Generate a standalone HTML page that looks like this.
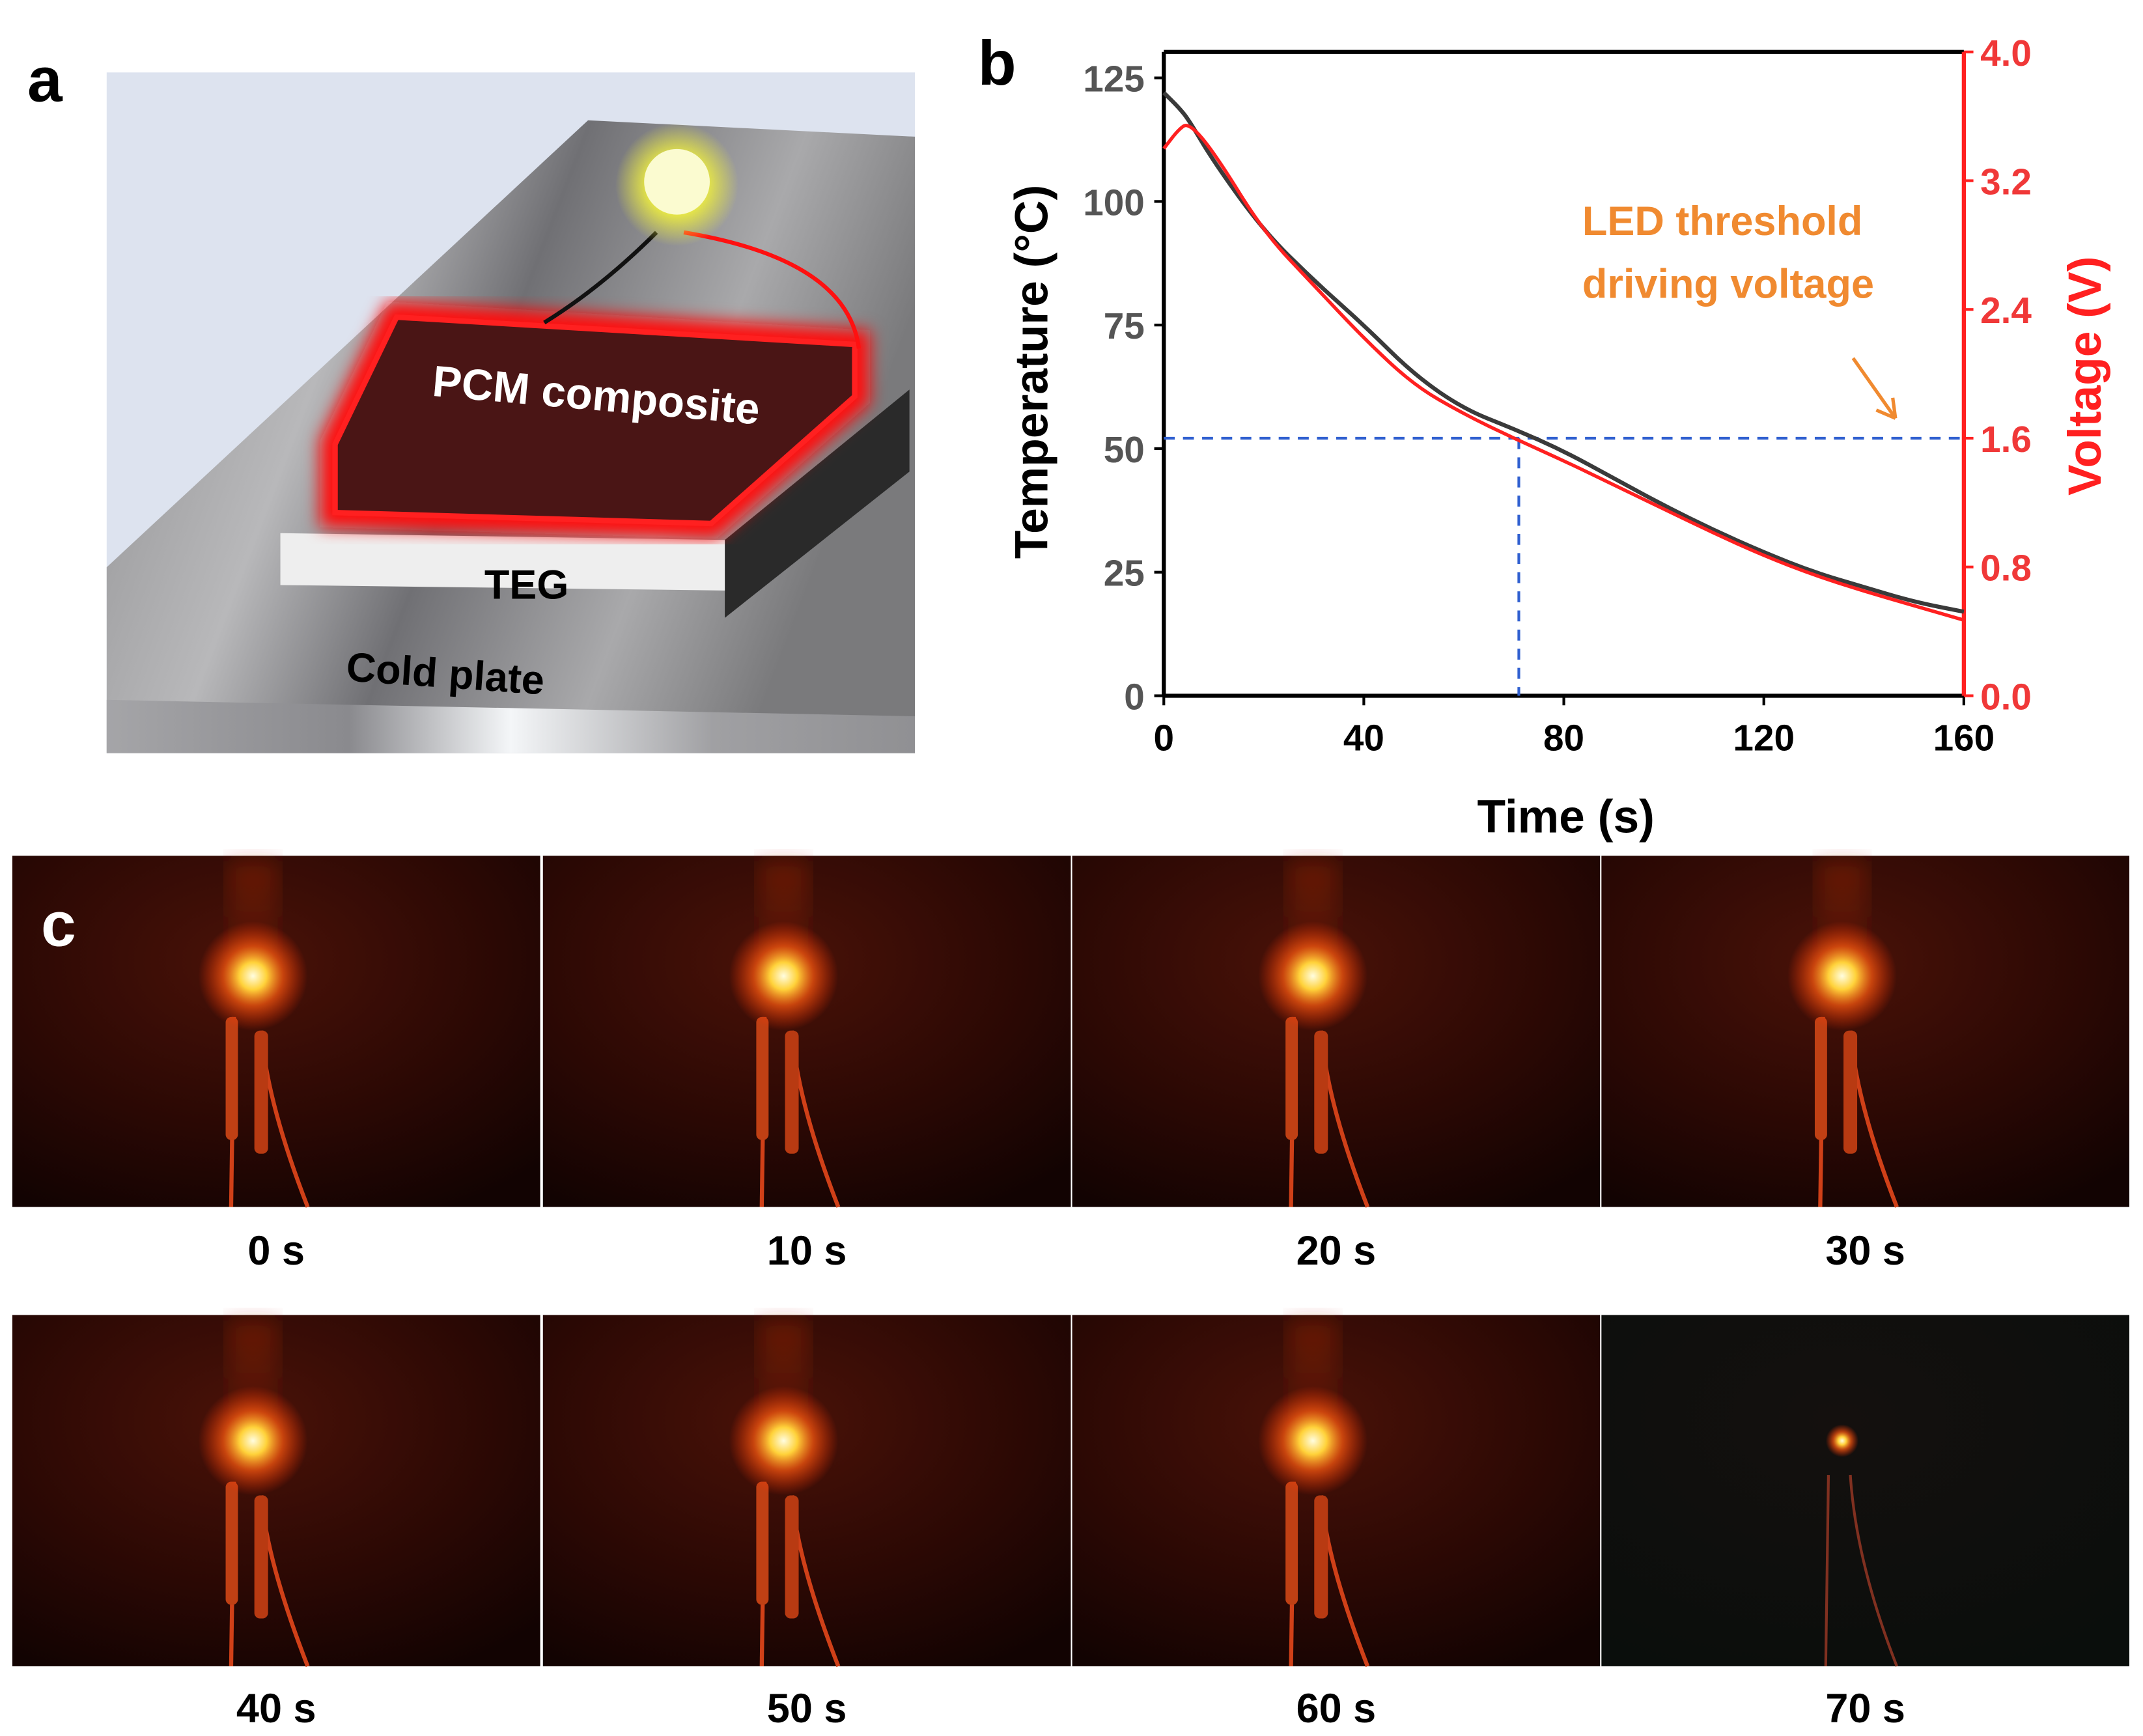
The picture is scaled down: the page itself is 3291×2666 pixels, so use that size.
<!DOCTYPE html>
<html><head><meta charset="utf-8"><style>
html,body{margin:0;padding:0;background:#fff}
svg{display:block}
text{font-family:"Liberation Sans",sans-serif}
</style></head><body>
<svg id="fig" width="3291" height="2666" viewBox="0 0 1567 1270" preserveAspectRatio="none" xmlns="http://www.w3.org/2000/svg">
<defs>
<linearGradient id="plate" x1="0" y1="0" x2="1" y2="0.3">
<stop offset="0" stop-color="#8a8a8c"/><stop offset="0.35" stop-color="#b8b8ba"/><stop offset="0.55" stop-color="#707074"/><stop offset="0.8" stop-color="#a9a9ab"/><stop offset="1" stop-color="#7a7a7c"/></linearGradient>
<linearGradient id="edge" x1="0" y1="0" x2="1" y2="0">
<stop offset="0" stop-color="#a5a5a8"/><stop offset="0.3" stop-color="#8a8a8e"/><stop offset="0.5" stop-color="#f4f6f8"/><stop offset="0.75" stop-color="#a0a0a3"/><stop offset="1" stop-color="#909093"/></linearGradient>
<radialGradient id="glowY"><stop offset="0.4" stop-color="#f4f43a"/><stop offset="1" stop-color="#f4f43a" stop-opacity="0"/></radialGradient>
<radialGradient id="ph" cx="0.45" cy="0.3" r="0.8"><stop offset="0" stop-color="#4a1208"/><stop offset="0.6" stop-color="#2a0804"/><stop offset="1" stop-color="#120302"/></radialGradient>
<radialGradient id="ph2" cx="0.45" cy="0.3" r="0.8"><stop offset="0" stop-color="#14100e"/><stop offset="1" stop-color="#0a0e0c"/></radialGradient>
<radialGradient id="led"><stop offset="0" stop-color="#fffde0"/><stop offset="0.25" stop-color="#ffd23a"/><stop offset="0.55" stop-color="#ff5a10" stop-opacity="0.7"/><stop offset="1" stop-color="#ff3000" stop-opacity="0"/></radialGradient>
<linearGradient id="beam" x1="0" y1="0" x2="0" y2="1"><stop offset="0" stop-color="#c03010" stop-opacity="0.35"/><stop offset="1" stop-color="#c03010" stop-opacity="0"/></linearGradient>
<filter id="blur"><feGaussianBlur stdDeviation="6"/></filter>
<filter id="blur2"><feGaussianBlur stdDeviation="8"/></filter>
</defs>

<!-- Panel a -->
<text x="20" y="74" font-size="46" font-weight="bold">a</text>
<g>
<rect x="78" y="53" width="591" height="498" fill="#dde3ef"/>
<polygon points="430,88 669,100 669,551 78,551 78,415" fill="url(#plate)"/>
<polygon points="78,512 669,524 669,551 78,551" fill="url(#edge)"/>
<polygon points="530,395 665,285 665,345 530,452" fill="#2a2a2a"/>
<polygon points="205,390 530,395 530,432 205,428" fill="#eeeeee"/>
<text x="385" y="438" font-size="30" font-weight="bold" text-anchor="middle">TEG</text>
<polygon points="290,232 625,252 625,290 520,383 245,375 245,325" fill="none" stroke="#ff1010" stroke-width="22" filter="url(#blur)"/>
<polygon points="290,232 625,252 625,290 520,383 245,375 245,325" fill="#4a1515" stroke="#ff2020" stroke-width="4"/>
<text x="435" y="300" font-size="32" font-weight="bold" fill="#fff" text-anchor="middle" transform="rotate(5 435 300)">PCM composite</text>
<path d="M398,236 Q440,210 480,170" stroke="#111" stroke-width="3" fill="none"/>
<path d="M500,170 Q620,190 628,255" stroke="#ff1010" stroke-width="3" fill="none"/>
<circle cx="495" cy="135" r="45" fill="url(#glowY)"/>
<circle cx="495" cy="133" r="24" fill="#fbfbd0"/>
<text x="325" y="503" font-size="30" font-weight="bold" text-anchor="middle" transform="rotate(4 325 503)">Cold plate</text>
</g>

<!-- Panel b -->
<text x="715" y="62" font-size="46" font-weight="bold">b</text>
<g id="chart"></g>

<!-- Panel c -->
<g id="photos"></g>
<text x="30" y="692" font-size="46" font-weight="bold" fill="#fff">c</text>
</svg>
<script>
const times=[0,3,5,10,20,30,40,50,60,70,80,90,100,110,120,130,140,150,160];
const temps=[122,119,116.5,108,94,84,75,65,58,54,49.5,44,38.5,33.5,29,25,22,19,17];
const volts=[3.4,3.52,3.56,3.38,2.88,2.55,2.22,1.93,1.75,1.6,1.46,1.31,1.16,1.01,0.87,0.75,0.65,0.56,0.47];
const xTicks=[0,40,80,120,160];
const tTicks=[0,25,50,75,100,125];
const vTicks=[0,0.8,1.6,2.4,3.2,4.0];
const threshold=[1.6];
const crossTime=[71];
const NS="http://www.w3.org/2000/svg";
const L=851,R=1436,T=38,B=509;
const xs=t=>L+(t/160)*(R-L);
const yT=v=>B-(v/130.25)*(B-T);
const yV=v=>B-(v/4)*(B-T);
const g=document.getElementById('chart');
function mk(tag,a,p){const e=document.createElementNS(NS,tag);for(const k in a)e.setAttribute(k,a[k]);(p||g).appendChild(e);return e;}
let e;
e=mk('line',{x1:L,y1:T,x2:R,y2:T,stroke:'#000','stroke-width':3});


e=mk('line',{x1:L,y1:T,x2:L,y2:B,stroke:'#000','stroke-width':3});


e=mk('line',{x1:L,y1:B,x2:R,y2:B,stroke:'#000','stroke-width':3});


e=mk('line',{x1:R,y1:T,x2:R,y2:B,stroke:'#ff2020','stroke-width':3});


xTicks.forEach(v=>{
 e=mk('line',{x1:xs(v),y1:B,x2:xs(v),y2:B+7,stroke:'#000','stroke-width':2});
 
 
 e=mk('text',{x:xs(v),y:B+40,'font-size':27,'font-weight':'bold','text-anchor':'middle'});e.textContent=v;
 
 
});
tTicks.forEach(v=>{
 e=mk('line',{x1:L-7,y1:yT(v),x2:L,y2:yT(v),stroke:'#000','stroke-width':2});
 
 
 e=mk('text',{x:L-14,y:yT(v)+10,'font-size':27,'font-weight':'bold','text-anchor':'end',fill:'#555'});e.textContent=v;
 
 
});
vTicks.forEach(v=>{
 e=mk('line',{x1:R,y1:yV(v),x2:R+7,y2:yV(v),stroke:'#ff2020','stroke-width':2});
 
 
 e=mk('text',{x:R+12,y:yV(v)+10,'font-size':27,'font-weight':'bold',fill:'#f03838'});e.textContent=v.toFixed(1);
 
 
});
e=mk('line',{x1:L,y1:yV(threshold[0]),x2:R,y2:yV(threshold[0]),stroke:'#3060d0','stroke-width':2,'stroke-dasharray':'8,6'});


e=mk('line',{x1:xs(crossTime[0]),y1:yV(threshold[0]),x2:xs(crossTime[0]),y2:B,stroke:'#3060d0','stroke-width':2,'stroke-dasharray':'8,6'});


function path(vals,fy){
 let d='M'+xs(times[0])+','+fy(vals[0]);
 for(let i=1;i<times.length;i++){const x0=xs(times[i-1]),y0=fy(vals[i-1]),x1=xs(times[i]),y1=fy(vals[i]);const mx=(x0+x1)/2;d+=' Q'+x0+','+y0+' '+mx+','+(y0+y1)/2;}
 d+=' L'+xs(times[times.length-1])+','+fy(vals[vals.length-1]);return d;}
e=mk('path',{d:path(temps,yT),fill:'none',stroke:'#3a3a3a','stroke-width':3});


e=mk('path',{d:path(volts,yV),fill:'none',stroke:'#ff2020','stroke-width':2.5});


e=mk('text',{x:1145,y:609,'font-size':34,'font-weight':'bold','text-anchor':'middle'});e.textContent='Time (s)';


e=mk('text',{x:0,y:0,'font-size':34,'font-weight':'bold','text-anchor':'middle',transform:'translate(766,272) rotate(-90)'});e.textContent='Temperature (°C)';


e=mk('text',{x:0,y:0,'font-size':34,'font-weight':'bold','text-anchor':'middle',fill:'#ff2020',transform:'translate(1536,275) rotate(-90)'});e.textContent='Voltage (V)';


e=mk('text',{x:1157,y:172,'font-size':30,'font-weight':'bold',fill:'#f08a30'});e.textContent='LED threshold';


e=mk('text',{x:1157,y:218,'font-size':30,'font-weight':'bold',fill:'#f08a30'});e.textContent='driving voltage';


e=mk('path',{d:'M1355,262 L1386,306 M1386,306 L1372,300 M1386,306 L1384,291',stroke:'#f08a30','stroke-width':2.5,fill:'none'});



// photos
const labels=['0 s','10 s','20 s','30 s','40 s','50 s','60 s','70 s'];
const colX=[9,397,784,1171],rowY=[626,962],W=386,H=257,labY=[925,1260];
const pg=document.getElementById('photos');
labels.forEach((lab,i)=>{
 const c=i%4,r=Math.floor(i/4),x=colX[c],y=rowY[r],dark=(i===7);
 const grp=mk('g',{},pg);
 
 
 mk('rect',{x:x,y:y,width:W,height:H,fill:dark?'url(#ph2)':'url(#ph)'},grp);
 const lx=x+176,ly=y+(r?92:88);
 if(!dark){
  mk('rect',{x:lx-18,y:y+4,width:36,height:ly-y,fill:'url(#beam)',filter:'url(#blur2)'},grp);
  mk('path',{d:`M${lx-14},${ly+30} L${lx-16},${y+H}`,stroke:'#d04018','stroke-width':3,fill:'none'},grp);
  mk('path',{d:`M${lx+6},${ly+40} Q${lx+10},${y+180} ${lx+40},${y+H}`,stroke:'#d04018','stroke-width':3,fill:'none'},grp);
  mk('rect',{x:lx-20,y:ly+30,width:9,height:90,rx:4,fill:'#c04014'},grp);
  mk('rect',{x:lx+1,y:ly+40,width:10,height:90,rx:4,fill:'#b83a12'},grp);
  mk('circle',{cx:lx,cy:ly,r:40,fill:'url(#led)'},grp);
 } else {
  mk('path',{d:`M${lx-10},${ly+25} L${lx-12},${y+H}`,stroke:'#803020','stroke-width':2,fill:'none'},grp);
  mk('path',{d:`M${lx+6},${ly+25} Q${lx+10},${y+180} ${lx+40},${y+H}`,stroke:'#803020','stroke-width':2,fill:'none'},grp);
  mk('circle',{cx:lx,cy:ly,r:12,fill:'url(#led)'},grp);
 }
 const t=mk('text',{x:x+W/2,y:labY[r],'font-size':30,'font-weight':'bold','text-anchor':'middle'},pg);
 t.textContent=lab;
 
 
});
</script>
</body></html>
